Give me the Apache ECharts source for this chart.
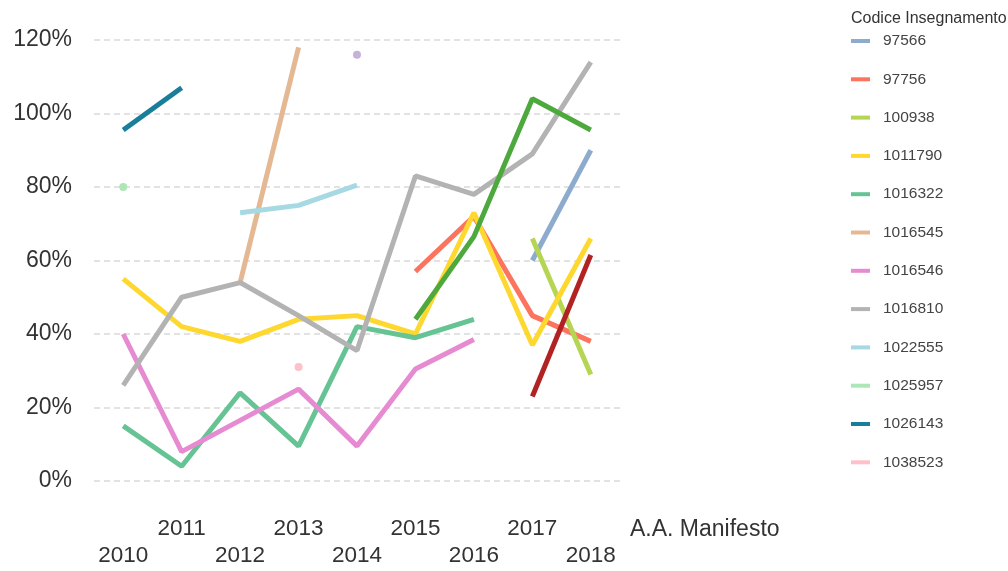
<!DOCTYPE html>
<html>
<head>
<meta charset="utf-8">
<script src="https://cdn.jsdelivr.net/npm/echarts@6/dist/echarts.min.js"></script>
<style>
  html, body { margin: 0; padding: 0; background: #fff; }
  #chart { width: 1008px; height: 571px; }
</style>
</head>
<body>
<div id="chart"></div>
<script>
// anni accademici
const years = ['2010', '2011', '2012', '2013', '2014', '2015', '2016', '2017', '2018']

// percentuali per codice insegnamento (null = nessun dato)
const s97566   = [null, null, null, null, null, null, null, 60, 90]
const s97756   = [null, null, null, null, null, 57, 72, 45, 38]
const s100938  = [null, null, null, null, null, null, null, 66, 29]
const s1011790 = [55, 42, 38, 44, 45, 40, 73, 37, 66]
const s1016322 = [15, 4, 24, 9.5, 42, 39, 44, null, null]
const s1016545 = [null, null, 54, 118, null, null, null, null, null]
const s1016546 = [40, 8, 16.5, 25, 9.5, 30.5, 38.5, null, null]
const s1016810 = [26, 50, 54, 45, 35.5, 83, 78, 89, 114]
const s1022555 = [null, null, 73, 75, 80.5, null, null, null, null]
const s1025957 = [80, null, null, null, null, null, null, null, null]
const s1026143 = [95.5, 107, null, null, null, null, null, null, null]
const s1038523 = [null, null, null, 31, null, null, null, null, null]
// serie oltre la legenda visibile
const sExtraA  = [null, null, null, null, 116, null, null, null, null]
const sExtraB  = [null, null, null, null, null, 44, 66.5, 104, 95.5]
const sExtraC  = [null, null, null, null, null, null, null, 23, 61.5]

const legendNames = ['97566', '97756', '100938', '1011790', '1016322', '1016545',
  '1016546', '1016810', '1022555', '1025957', '1026143', '1038523']

const chart = echarts.init(document.getElementById('chart'))

const mkLine = (name, data, color, single) => ({
  name: name,
  type: 'line',
  data: data,
  color: color,
  showSymbol: !!single,
  symbol: 'circle',
  symbolSize: 8,
  lineStyle: { width: 5, color: color },
  itemStyle: { color: color },
  emphasis: { disabled: true },
  animation: false
})

const font = 'Liberation Sans, Arial, sans-serif'

const option = {
  backgroundColor: '#fff',
  title: {
    text: 'Codice Insegnamento',
    left: 846,
    top: 6,
    textStyle: { fontSize: 16, fontWeight: 'normal', color: '#333', fontFamily: font }
  },
  legend: {
    data: legendNames,
    orient: 'vertical',
    left: 846,
    top: 27,
    icon: 'rect',
    itemWidth: 19,
    itemHeight: 4,
    itemGap: 20.3,
    selectedMode: false,
    textStyle: {
      fontSize: 15.5,
      lineHeight: 18,
      color: '#444',
      padding: [0, 0, 0, 8],
      fontFamily: font
    }
  },
  grid: { left: 94, right: 388, top: 40, bottom: 90, outerBoundsMode: 'none' },
  xAxis: {
    type: 'category',
    data: years,
    boundaryGap: true,
    axisLine: { show: false },
    axisTick: { show: false },
    axisLabel: {
      interval: 0,
      margin: 34,
      fontSize: 22.5,
      lineHeight: 27.5,
      color: '#333',
      fontFamily: font,
      formatter: v => (Number(v) % 2 === 0 ? '\n' + v : v)
    },
    name: 'A.A. Manifesto',
    nameLocation: 'end',
    nameGap: 10,
    nameTextStyle: {
      fontSize: 23,
      color: '#333',
      verticalAlign: 'top',
      lineHeight: 98,
      fontFamily: font
    }
  },
  yAxis: {
    type: 'value',
    min: 0,
    max: 120,
    interval: 20,
    axisLine: { show: false },
    axisTick: { show: false },
    axisLabel: {
      formatter: '{value}%',
      fontSize: 23,
      margin: 22,
      color: '#333',
      fontFamily: font
    },
    splitLine: { lineStyle: { color: '#d9d9d9', type: [6, 4], width: 1.5 } }
  },
  series: [
    mkLine('97566', s97566, '#8dabcd'),
    mkLine('97756', s97756, '#fc735e'),
    mkLine('100938', s100938, '#b6d553'),
    mkLine('1011790', s1011790, '#fed72f'),
    mkLine('1016322', s1016322, '#66c394'),
    mkLine('1016545', s1016545, '#e5b894'),
    mkLine('1016546', s1016546, '#e68bd2'),
    mkLine('1016810', s1016810, '#b3b3b3'),
    mkLine('1022555', s1022555, '#a6d9e3'),
    mkLine('1025957', s1025957, '#aee7b7', true),
    mkLine('1026143', s1026143, '#1a7e9a'),
    mkLine('1038523', s1038523, '#fec0cb', true),
    mkLine('extra A', sExtraA, '#c6b1d9', true),
    mkLine('extra B', sExtraB, '#4da93e'),
    mkLine('extra C', sExtraC, '#b22222')
  ]
}

chart.setOption(option)
</script>
</body>
</html>
